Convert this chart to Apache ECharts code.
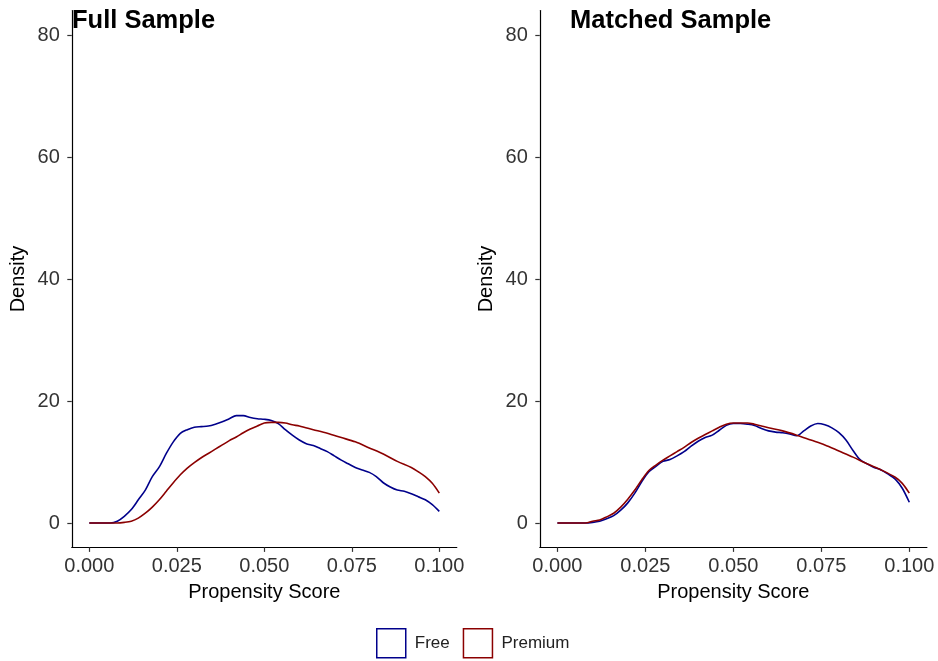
<!DOCTYPE html>
<html>
<head>
<meta charset="utf-8">
<script src="https://cdn.jsdelivr.net/npm/echarts@6/dist/echarts.min.js"></script>
<style>html,body{margin:0;padding:0;background:#fff}#c{width:938px;height:661px}</style>
</head>
<body>
<div id="c"></div>
<script>
// ---- data ----
const panelTitles = ['Full Sample', 'Matched Sample'];
const seriesNames = ['Free', 'Premium'];
const xTicks = [0, 0.025, 0.05, 0.075, 0.1];
const yTicks = [0, 20, 40, 60, 80];

const fullFreeX = [0,0.006,0.008,0.010,0.012,0.014,0.016,0.018,0.020,0.022,0.024,0.026,0.028,0.030,0.032,0.034,0.036,0.038,0.040,0.042,0.044,0.046,0.048,0.050,0.052,0.054,0.056,0.058,0.060,0.062,0.064,0.066,0.068,0.070,0.072,0.074,0.076,0.078,0.080,0.082,0.084,0.086,0.088,0.090,0.092,0.094,0.096,0.098,0.100];
const fullFreeY = [0,0,0.3,1.1,2.2,3.8,5.4,7.6,9.2,11.4,13.3,14.7,15.3,15.7,15.8,15.9,16.2,16.6,17.1,17.6,17.6,17.3,17.1,17.0,16.8,16.3,15.3,14.4,13.6,13.0,12.7,12.2,11.7,11.0,10.3,9.7,9.1,8.7,8.3,7.6,6.6,5.9,5.4,5.2,4.8,4.3,3.8,3.0,1.9];

const fullPremX = [0,0.008,0.010,0.012,0.014,0.016,0.018,0.020,0.022,0.024,0.026,0.028,0.030,0.032,0.034,0.036,0.038,0.040,0.042,0.044,0.046,0.048,0.050,0.052,0.054,0.056,0.058,0.060,0.064,0.068,0.072,0.076,0.080,0.084,0.088,0.092,0.094,0.096,0.098,0.100];
const fullPremY = [0,0,0.1,0.3,0.8,1.6,2.6,3.8,5.2,6.6,7.9,9.0,9.9,10.7,11.4,12.1,12.8,13.5,14.1,14.8,15.4,15.9,16.4,16.5,16.5,16.4,16.1,15.9,15.3,14.7,14.0,13.3,12.3,11.3,10.1,9.1,8.4,7.6,6.5,4.9];

const matchFreeX = [0,0.008,0.010,0.012,0.014,0.016,0.018,0.020,0.022,0.024,0.026,0.028,0.030,0.032,0.034,0.036,0.038,0.040,0.042,0.044,0.046,0.048,0.050,0.052,0.054,0.056,0.058,0.060,0.062,0.064,0.066,0.068,0.070,0.072,0.074,0.076,0.078,0.080,0.082,0.084,0.086,0.088,0.090,0.092,0.094,0.096,0.098,0.100];
const matchFreeY = [0,0,0.1,0.3,0.7,1.2,2.1,3.3,4.9,6.8,8.4,9.3,10.1,10.4,11.0,11.7,12.6,13.4,14.0,14.4,15.2,16.0,16.3,16.3,16.2,16.0,15.5,15.1,14.9,14.8,14.6,14.3,15.1,15.9,16.3,16.1,15.6,14.8,13.6,11.9,10.4,9.7,9.1,8.7,8.0,7.2,5.7,3.4];

const matchPremX = [0,0.008,0.010,0.012,0.014,0.016,0.018,0.020,0.022,0.024,0.026,0.028,0.030,0.032,0.034,0.036,0.038,0.040,0.042,0.044,0.046,0.048,0.050,0.052,0.054,0.056,0.058,0.060,0.064,0.068,0.072,0.076,0.080,0.084,0.088,0.092,0.096,0.098,0.100];
const matchPremY = [0,0,0.3,0.5,1.0,1.6,2.6,3.9,5.4,7.1,8.6,9.5,10.3,11.0,11.7,12.4,13.2,13.9,14.5,15.1,15.7,16.2,16.4,16.4,16.4,16.2,15.9,15.6,15.1,14.4,13.6,12.8,11.8,10.8,9.7,8.7,7.5,6.5,4.9];

// ---- chart ----
const FREE = '#00008B', PREM = '#8B0000';
const FONT = 'Liberation Sans, Arial, sans-serif';
const zip = (xs, ys) => xs.map((x, i) => [x, ys[i]]);

const grids = [
  {left: 71.8, top: 10.6, width: 385, height: 536.8},
  {left: 539.8, top: 10.6, width: 387.1, height: 536.8}
];

function xAxisFor(i) {
  return {
    type: 'value', gridIndex: i, min: -0.005, max: 0.105,
    name: 'Propensity Score', nameLocation: 'middle', nameGap: 35,
    nameTextStyle: {color: '#000', fontSize: 20, fontFamily: FONT},
    axisLine: {onZero: false, lineStyle: {color: '#000', width: 1.2}},
    axisTick: {customValues: xTicks, length: 4.5, lineStyle: {color: '#333', width: 1.2}},
    axisLabel: {customValues: xTicks, margin: 9, color: '#333', fontSize: 20, fontFamily: FONT,
      formatter: v => v.toFixed(3)},
    splitLine: {show: false}
  };
}
function yAxisFor(i) {
  return {
    type: 'value', gridIndex: i, min: -4, max: 84,
    name: 'Density', nameLocation: 'middle', nameGap: 43,
    nameTextStyle: {color: '#000', fontSize: 20, fontFamily: FONT},
    axisLine: {show: true, onZero: false, lineStyle: {color: '#000', width: 1.2}},
    axisTick: {show: true, customValues: yTicks, length: 4.5, lineStyle: {color: '#333', width: 1.2}},
    axisLabel: {customValues: yTicks, margin: 12, color: '#333', fontSize: 20, fontFamily: FONT},
    splitLine: {show: false}
  };
}
function lineSeries(name, color, data, i) {
  return {
    name, type: 'line', xAxisIndex: i, yAxisIndex: i, data,
    smooth: 0.3, showSymbol: false, symbol: 'none',
    lineStyle: {color, width: 1.6}, itemStyle: {color},
    animation: false
  };
}

const chart = echarts.init(document.getElementById('c'), null, {renderer: 'canvas'});
chart.setOption({
  backgroundColor: '#fff',
  animation: false,
  title: [
    {text: panelTitles[0], left: 72, top: 8, padding: 0,
      textStyle: {fontSize: 25.5, fontWeight: 'bold', color: '#000', fontFamily: FONT}},
    {text: panelTitles[1], left: 570, top: 8, padding: 0,
      textStyle: {fontSize: 25.5, fontWeight: 'bold', color: '#000', fontFamily: FONT}}
  ],
  legend: {
    left: 376, top: 628, padding: 0, itemGap: 13,
    itemWidth: 29, itemHeight: 29, icon: 'rect',
    textStyle: {fontSize: 17, color: '#222', fontFamily: FONT, padding: [0, 0, 0, 4]},
    data: [
      {name: seriesNames[0], itemStyle: {color: 'transparent', borderColor: FREE, borderWidth: 1.5}, lineStyle: {opacity: 0}},
      {name: seriesNames[1], itemStyle: {color: 'transparent', borderColor: PREM, borderWidth: 1.5}, lineStyle: {opacity: 0}}
    ]
  },
  grid: grids,
  xAxis: [xAxisFor(0), xAxisFor(1)],
  yAxis: [yAxisFor(0), yAxisFor(1)],
  series: [
    lineSeries(seriesNames[0], FREE, zip(fullFreeX, fullFreeY), 0),
    lineSeries(seriesNames[1], PREM, zip(fullPremX, fullPremY), 0),
    lineSeries(seriesNames[0], FREE, zip(matchFreeX, matchFreeY), 1),
    lineSeries(seriesNames[1], PREM, zip(matchPremX, matchPremY), 1)
  ]
});
</script>
</body>
</html>
